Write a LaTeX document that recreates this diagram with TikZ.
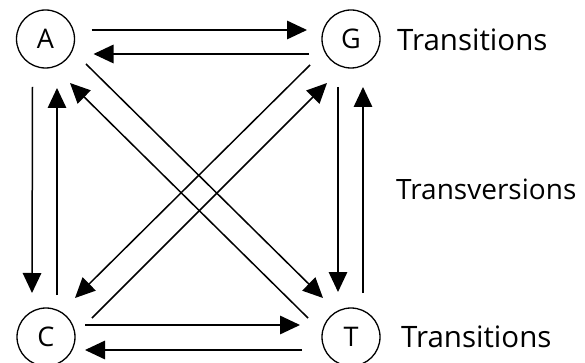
\documentclass[tikz,border=0pt]{standalone}
\usepackage{fontspec}
\setmainfont{Open Sans}
\usetikzlibrary{arrows.meta,calc}
\begin{document}
\begin{tikzpicture}[x=1pt,y=-1pt,
  base/.style={circle,draw,line width=1.3pt,minimum size=58pt,inner sep=0pt,font=\fontsize{27}{27}\selectfont},
  arr/.style={line width=1.5pt,-{Triangle[length=20pt,width=18.5pt]}},
  lab/.style={anchor=west,inner sep=0pt,font=\fontsize{29.5}{29.5}\selectfont}]
\useasboundingbox (0,0) rectangle (585,363);
\node[base] (A) at (45.5,39) {A};
\node[base] (G) at (351,39) {G};
\node[base] (C) at (46,337) {C};
\node[base] (T) at (351,337) {T};
% horizontal
\draw[arr] ($(A)+(46,-9)$) -- ($(G)+(-44,-9)$);
\draw[arr] ($(G)+(-42,15)$) -- ($(A)+(48,15)$);
\draw[arr] ($(C)+(39,-12)$) -- ($(T)+(-51,-12)$);
\draw[arr] ($(T)+(-49,13)$) -- ($(C)+(39,13)$);
% vertical
\draw[arr] ($(A)+(-13,48)$) -- ($(C)+(-14,-44)$);
\draw[arr] ($(C)+(11,-42)$) -- ($(A)+(11.5,49)$);
\draw[arr] ($(G)+(-13,48)$) -- ($(T)+(-13,-45)$);
\draw[arr] ($(T)+(12,-44)$) -- ($(G)+(12,48)$);
% diagonals
\draw[arr] ($(A)+(40.5,25)$) -- ($(T)+(-28,-39)$);
\draw[arr] ($(T)+(-43,-19)$) -- ($(A)+(24.5,44)$);
\draw[arr] ($(G)+(-41,26)$) -- ($(C)+(29,-39)$);
\draw[arr] ($(C)+(46,-19)$) -- ($(G)+(-24,44)$);
% labels
\node[lab] (l1) at (397,40) {Transitions};
\node[lab,font=\fontsize{28}{28}\selectfont] (l2) at (396,189) {Transversions};
\node[lab] (l3) at (401,337) {Transitions};
\end{tikzpicture}
\end{document}
